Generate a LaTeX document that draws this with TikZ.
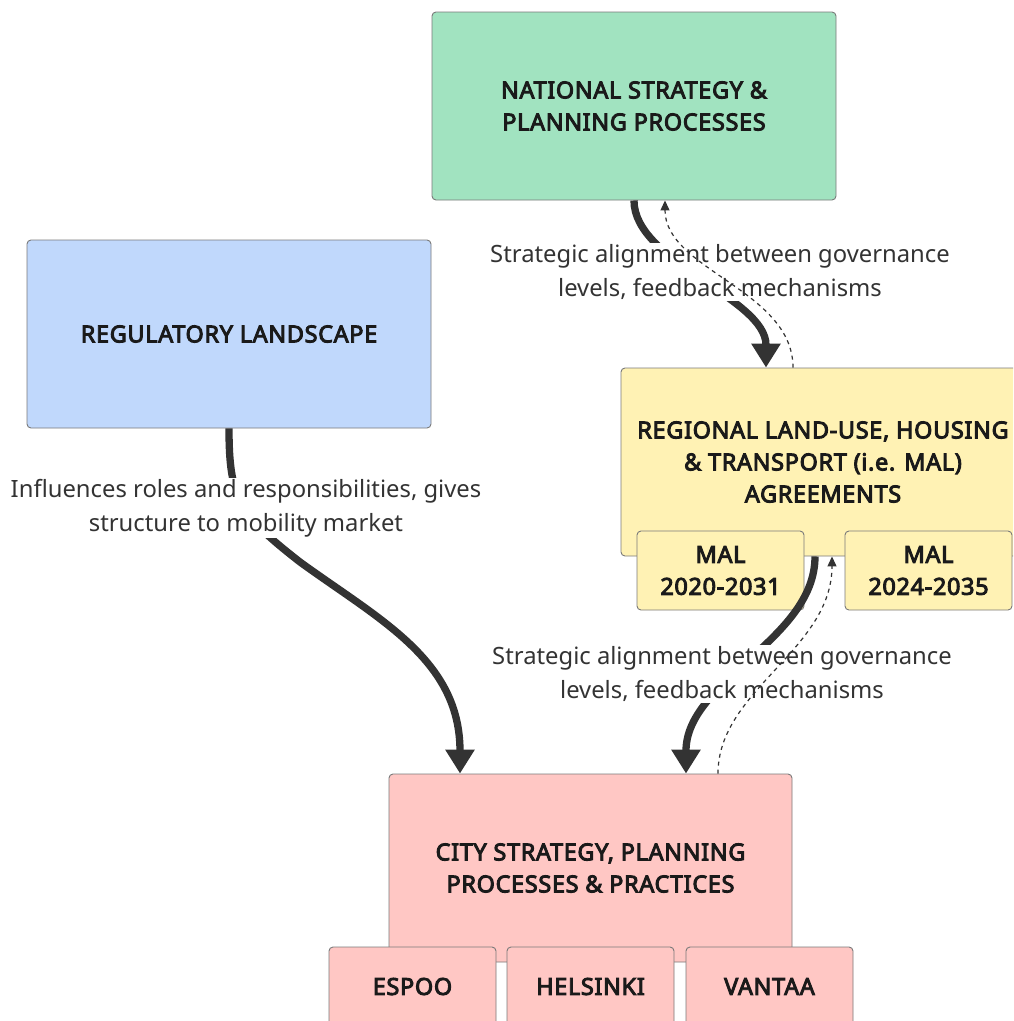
\documentclass[tikz,border=0pt]{standalone}
\usepackage{fontspec}
\setmainfont{Noto Sans}
\newfontfamily\boxfont{Noto Sans}[FakeBold=4,LetterSpace=3]
\usetikzlibrary{arrows.meta,calc}
\definecolor{natgreen}{HTML}{A1E3C0}
\definecolor{regblue}{HTML}{C0D8FC}
\definecolor{malyellow}{HTML}{FFF2B4}
\definecolor{citypink}{HTML}{FFC7C4}
\definecolor{bordergray}{HTML}{7A7A7A}
\definecolor{edgecol}{HTML}{333333}
\definecolor{textdark}{HTML}{1A1A1A}
\begin{document}
\begin{tikzpicture}[x=1pt,y=-1pt,
  box/.style={draw=bordergray, line width=0.9pt, rounded corners=4pt, inner sep=0pt,
    align=center, text=textdark, font=\boxfont\fontsize{23.4}{32}\selectfont},
  bigbox/.style={box, minimum width=404pt, minimum height=188pt},
  subbox/.style={box, minimum width=167pt, minimum height=79pt},
  lbl/.style={fill=white, inner sep=1pt, align=center, text=edgecol, font=\fontsize{23.8}{34}\selectfont},
  mainedge/.style={draw=edgecol, line width=7.3pt, -{Triangle[length=24pt,width=28pt]}},
  dashedge/.style={draw=edgecol, line width=1.2pt, dash pattern=on 4pt off 4pt, -{Triangle[length=10pt,width=9pt]}}
]
\clip (0,0) rectangle (1013,1021);
\fill[white] (0,0) rectangle (1013,1021);

% boxes
\node[bigbox, fill=natgreen] (nat) at (634,106) {NATIONAL STRATEGY \&\\PLANNING PROCESSES};
\node[bigbox, fill=regblue] (regl) at (229,334) {REGULATORY LANDSCAPE};
\node[bigbox, fill=malyellow] (reg) at (823,462) {REGIONAL LAND-USE, HOUSING\\\& TRANSPORT (i.e. MAL)\\AGREEMENTS};
\node[subbox, fill=malyellow] (mal1) at (720.5,570.5) {MAL\\2020-2031};
\node[subbox, fill=malyellow] (mal2) at (928.5,570.5) {MAL\\2024-2035};
\node[bigbox, fill=citypink, minimum width=403pt] (city) at (590.5,868) {CITY STRATEGY, PLANNING\\PROCESSES \& PRACTICES};
\node[subbox, fill=citypink] (espoo) at (412.5,986.5) {ESPOO};
\node[subbox, fill=citypink] (hel) at (590.5,986.5) {HELSINKI};
\node[subbox, fill=citypink] (van) at (769.5,986.5) {VANTAA};

% main edges
\draw[mainedge] (nat.south) .. controls (634,262) and (766,298) .. ([xshift=-57pt]reg.north);
\draw[mainedge] (regl.south) .. controls (229,500) and (240,515) .. (300,562)
   .. controls (380,620) and (460,660) .. ([xshift=-130.5pt]city.north);
\draw[mainedge] ([xshift=-8pt]reg.south) .. controls (815,640) and (686,680) .. ([xshift=95.5pt]city.north);

% labels
\node[lbl] (l1) at (720,272) {Strategic alignment between governance\\levels, feedback mechanisms};
\node[lbl] (l2) at (246,508) {Influences roles and responsibilities, gives\\structure to mobility market};
\node[lbl] (l3) at (722,674) {Strategic alignment between governance\\levels, feedback mechanisms};

% feedback edges
\draw[dashedge] ([xshift=-30pt]reg.north) .. controls (793,290) and (665,270) .. ([xshift=31pt]nat.south);
\draw[dashedge] ([xshift=127.5pt]city.north) .. controls (718,690) and (832,650) .. ([xshift=9pt]reg.south);
\end{tikzpicture}
\end{document}
